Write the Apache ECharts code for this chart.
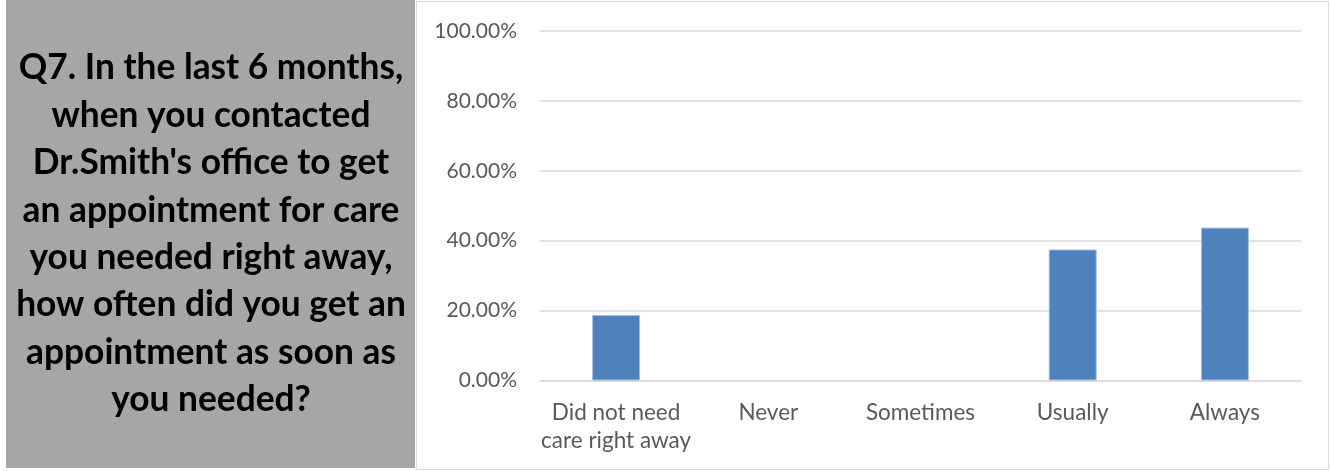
<!DOCTYPE html>
<html>
<head>
<meta charset="utf-8">
<script src="https://cdn.jsdelivr.net/npm/echarts@6/dist/echarts.min.js"></script>
<style>
  html, body { margin: 0; padding: 0; background: #ffffff; }
  #chart { width: 1330px; height: 471px; }
</style>
</head>
<body>
<div id="chart"></div>
<script>
// Survey answer categories (x axis)
const categories = ['Did not need\ncare right away', 'Never', 'Sometimes', 'Usually', 'Always'];
// Share of respondents for each answer
const shares = [0.1875, 0, 0, 0.375, 0.4375];
// Value axis ticks
const yMin = 0;
const yMax = 1;
const yStep = 0.2;
// Question text shown in the side panel, one entry per line
const questionLines = [
  'Q7. In the last 6 months,',
  'when you contacted',
  "Dr.Smith's office to get",
  'an appointment for care',
  'you needed right away,',
  'how often did you get an',
  'appointment as soon as',
  'you needed?'
];

const FONT = 'Lato, "Liberation Sans", sans-serif';
const chart = echarts.init(document.getElementById('chart'), null, { renderer: 'canvas' });

chart.setOption({
  animation: false,
  backgroundColor: '#ffffff',
  grid: { left: 540, right: 29, top: 31, bottom: 90.5 },
  xAxis: {
    type: 'category',
    data: categories,
    axisLine: { show: true, lineStyle: { color: '#d9d9d9', width: 1.5 } },
    axisTick: { show: false },
    axisLabel: {
      color: '#595959', fontFamily: FONT, fontSize: 22.5,
      lineHeight: 28, margin: 18, interval: 0
    },
    splitLine: { show: false }
  },
  yAxis: {
    type: 'value',
    min: yMin, max: yMax, interval: yStep,
    axisLine: { show: false },
    axisTick: { show: false },
    axisLabel: {
      color: '#595959', fontFamily: FONT, fontSize: 21, margin: 23,
      formatter: v => (v * 100).toFixed(2) + '%'
    },
    splitLine: { lineStyle: { color: '#d9d9d9', width: 1.5 } }
  },
  series: [{
    type: 'bar',
    barWidth: 48,
    data: shares.map(v => ({
      value: v,
      itemStyle: { borderWidth: v > 0 ? 1 : 0 }
    })),
    itemStyle: { color: '#4f81bd', borderColor: '#a8c0de', borderWidth: 1 }
  }],
  graphic: [
    {
      type: 'rect', silent: true,
      shape: { x: 6, y: 0, width: 409, height: 468 },
      style: { fill: '#a6a6a6' }
    },
    {
      type: 'rect', silent: true,
      shape: { x: 416.5, y: 1.5, width: 912, height: 468 },
      style: { fill: 'none', stroke: '#d9d9d9', lineWidth: 1 }
    },
    {
      type: 'text', silent: true,
      x: 211, y: 234,
      style: {
        text: questionLines.join('\n'),
        fill: '#000000',
        font: 'bold 35.3px ' + FONT,
        lineHeight: 47.4,
        align: 'center',
        verticalAlign: 'middle'
      }
    }
  ]
});
</script>
</body>
</html>
